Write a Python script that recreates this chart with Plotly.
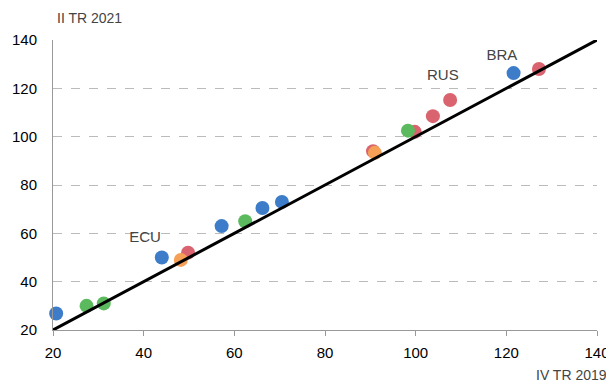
import plotly.graph_objects as go

# Data: (IV TR 2019, II TR 2021)
red_x = [49.8, 90.6, 99.8, 103.8, 107.6, 127.2]
red_y = [52.0, 94.0, 102.0, 108.5, 115.2, 128.0]
blue_x = [20.7, 44.0, 57.2, 66.2, 70.5, 121.6]
blue_y = [26.8, 50.0, 63.0, 70.5, 73.0, 126.3]
orange_x = [48.2, 91.0]
orange_y = [49.0, 93.3]
green_x = [27.4, 31.2, 62.4, 98.3]
green_y = [30.0, 31.0, 65.0, 102.5]
line_x = [20, 140]
line_y = [20, 140]
labels = ["ECU", "RUS", "BRA"]
label_x = [40.3, 106.0, 119.0]
label_y = [58.0, 124.8, 133.2]
ticks = [20, 40, 60, 80, 100, 120, 140]

fig = go.Figure()
for xs, ys, col in [(red_x, red_y, "#d9636f"), (blue_x, blue_y, "#3c7cc8"),
                    (orange_x, orange_y, "#f59f57"), (green_x, green_y, "#5cba5e")]:
    fig.add_trace(go.Scatter(x=xs, y=ys, mode="markers",
                             marker=dict(color=col, size=14, line=dict(width=0)),
                             showlegend=False, hoverinfo="skip", cliponaxis=False))
fig.add_trace(go.Scatter(x=line_x, y=line_y, mode="lines",
                         line=dict(color="black", width=3), showlegend=False))
fig.add_trace(go.Scatter(x=label_x, y=label_y, mode="text", text=labels,
                         textfont=dict(size=15, color="#444444", family="Liberation Sans, Arial"),
                         showlegend=False))

fig.update_layout(
    width=606, height=377,
    margin=dict(l=45, r=17, t=32, b=55),
    paper_bgcolor="white", plot_bgcolor="white",
    font=dict(family="Liberation Sans, Arial", size=15, color="black"),
    xaxis=dict(range=[20, 140], tickvals=ticks, showgrid=False, zeroline=False,
               showline=True, linecolor="#999999", linewidth=1,
               ticks="outside", ticklen=5, tickcolor="#999999",
               automargin=False, ticklabelstandoff=4),
    yaxis=dict(range=[20, 140], tickvals=ticks, showgrid=True, gridcolor="#bbbbbb",
               griddash="dash", gridwidth=1, zeroline=False,
               showline=True, linecolor="#999999", linewidth=1, ticks="",
               ticklabelstandoff=12, automargin=False),
    annotations=[
        dict(text="II TR 2021", xref="paper", yref="paper", x=0.0, y=1.0,
             xshift=2, yshift=22, xanchor="left", yanchor="middle", showarrow=False,
             font=dict(size=14, color="#444444")),
        dict(text="IV TR 2019", xref="paper", yref="paper", x=1.0, y=0,
             xshift=12, yshift=-45, xanchor="right", yanchor="middle", showarrow=False,
             font=dict(size=14, color="#444444")),
    ],
)
fig.write_html("out.html")
